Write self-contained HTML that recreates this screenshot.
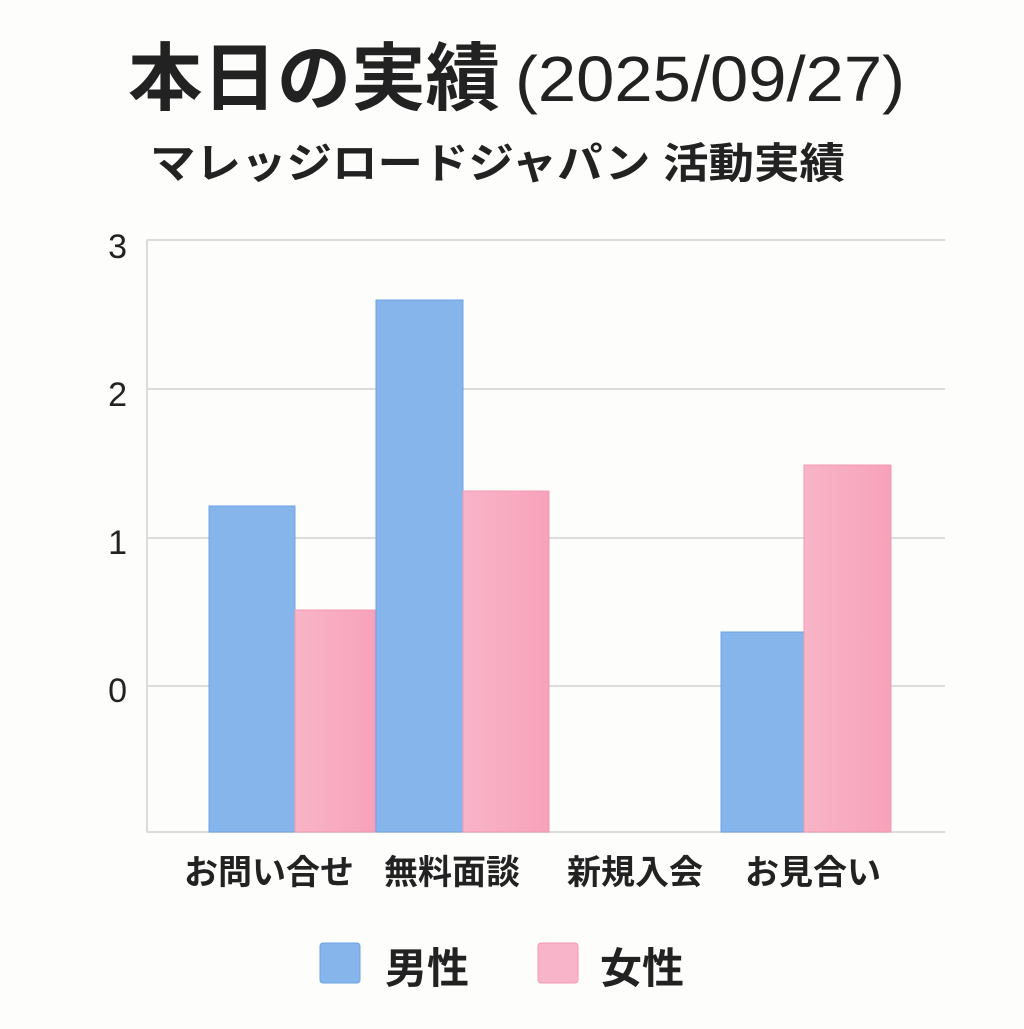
<!DOCTYPE html>
<html><head><meta charset="utf-8"><style>
body{margin:0;background:#fdfdfb;}
</style></head><body>
<svg width="1024" height="1024" xmlns="http://www.w3.org/2000/svg" font-family="'Liberation Sans','Noto Sans CJK JP',sans-serif">
<defs>
<linearGradient id="pk" x1="0" y1="0" x2="1" y2="0"><stop offset="0" stop-color="#f8b4c8"/><stop offset="1" stop-color="#f7a2ba"/></linearGradient>
</defs>
<rect width="1024" height="1024" fill="#fdfdfb"/>
<text x="128" y="104" font-size="74" font-weight="bold" fill="#222" textLength="372" lengthAdjust="spacingAndGlyphs">本日の実績</text>
<text x="515" y="101" font-size="64" fill="#222" textLength="390" lengthAdjust="spacingAndGlyphs">(2025/09/27)</text>
<text x="150" y="178" font-size="42" font-weight="bold" fill="#222" textLength="695" lengthAdjust="spacingAndGlyphs">マレッジロードジャパン  活動実績</text>
<g stroke="#dcdcdc" stroke-width="2">
<line x1="147" y1="240" x2="945" y2="240"/>
<line x1="147" y1="389" x2="945" y2="389"/>
<line x1="147" y1="538" x2="945" y2="538"/>
<line x1="147" y1="686" x2="945" y2="686"/>
<line x1="147" y1="832" x2="945" y2="832"/>
<line x1="147" y1="240" x2="147" y2="832"/>
</g>
<g font-size="34" fill="#222" text-anchor="end">
<text x="127" y="258">3</text><text x="127" y="406">2</text><text x="127" y="554">1</text><text x="127" y="702">0</text>
</g>
<g fill="#85b5ea" stroke="#6fa4e4" stroke-width="1">
<rect x="209" y="506" width="86" height="326"/>
<rect x="376" y="300" width="87" height="532"/>
<rect x="721" y="632" width="83" height="200"/>
</g>
<g fill="url(#pk)" stroke="#f29ab3" stroke-width="1">
<rect x="295" y="610" width="80" height="222"/>
<rect x="463" y="491" width="86" height="341"/>
<rect x="804" y="465" width="87" height="367"/>
</g>
<g font-size="34" fill="#222" text-anchor="middle" font-weight="bold">
<text x="269" y="884">お問い合せ</text>
<text x="452" y="884">無料面談</text>
<text x="635" y="884">新規入会</text>
<text x="813" y="884">お見合い</text>
</g>
<rect x="320" y="943" width="40" height="40" rx="3" fill="#85b5ea" stroke="#6fa4e4"/>
<text x="385" y="983" font-size="42" fill="#222" font-weight="bold">男性</text>
<rect x="538" y="943" width="40" height="40" rx="3" fill="#f8b4c8" stroke="#f29ab3"/>
<text x="600" y="983" font-size="42" fill="#222" font-weight="bold">女性</text>
</svg>
</body></html>
